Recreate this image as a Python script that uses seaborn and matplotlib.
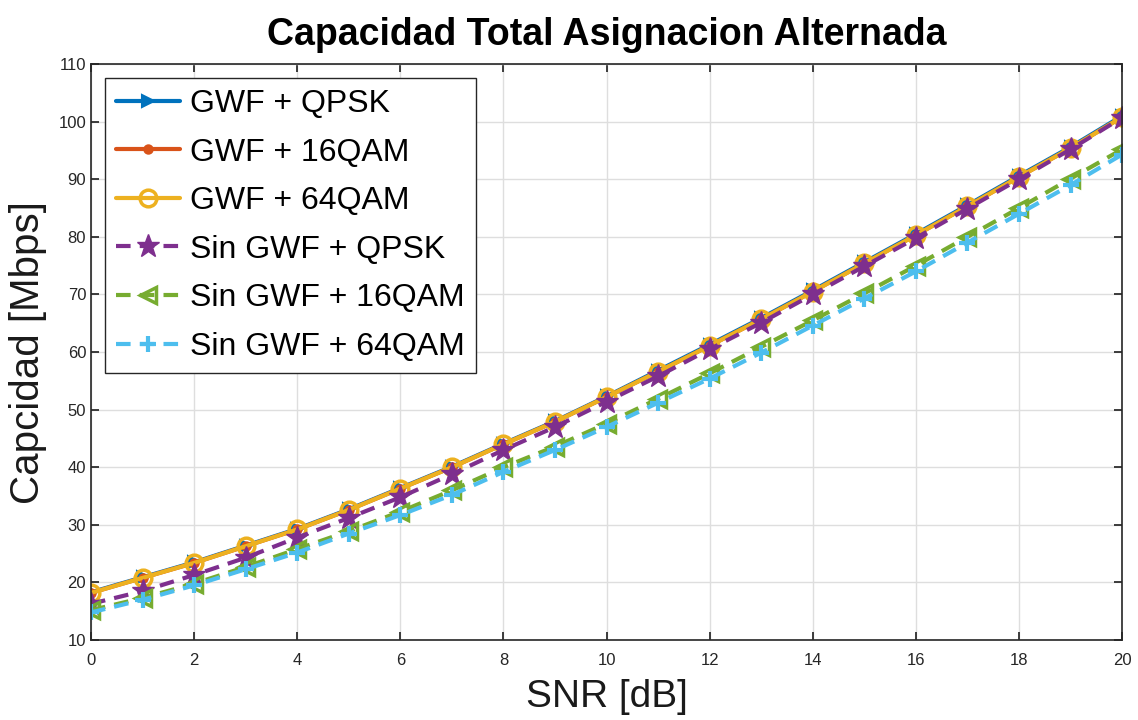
import numpy as np
import pandas as pd
import matplotlib
matplotlib.use("Agg")
import matplotlib.pyplot as plt
import seaborn as sns

snr = list(range(0, 21))
gwf_qpsk = [18.3, 20.9, 23.5, 26.4, 29.3, 32.7, 36.4, 40.1, 44.1, 48.0, 52.3, 56.8, 61.3, 65.9, 70.7, 75.6, 80.5, 85.5, 90.6, 95.6, 101.0]
gwf_16qam = [18.2, 20.8, 23.4, 26.3, 29.2, 32.6, 36.3, 40.0, 44.0, 47.9, 52.2, 56.6, 61.1, 65.7, 70.5, 75.4, 80.3, 85.3, 90.4, 95.4, 100.8]
gwf_64qam = [18.2, 20.8, 23.4, 26.3, 29.2, 32.6, 36.3, 40.0, 44.0, 47.9, 52.2, 56.6, 61.1, 65.7, 70.5, 75.4, 80.3, 85.3, 90.4, 95.4, 100.8]
sin_qpsk = [16.3, 18.5, 21.3, 24.3, 27.8, 31.2, 34.8, 38.8, 43.0, 47.0, 51.4, 55.8, 60.5, 65.1, 70.0, 74.9, 79.8, 84.9, 90.0, 95.2, 100.7]
sin_16qam = [15.2, 17.3, 19.8, 22.7, 25.8, 28.9, 32.3, 36.0, 40.0, 43.6, 47.6, 51.9, 56.3, 60.9, 65.5, 70.2, 75.0, 80.0, 85.0, 90.1, 95.2]
sin_64qam = [14.8, 17.0, 19.5, 22.3, 25.2, 28.5, 31.7, 35.2, 39.2, 43.0, 47.0, 51.2, 55.4, 59.9, 64.6, 69.3, 74.0, 79.0, 84.0, 89.0, 94.3]
labels = ["GWF + QPSK", "GWF + 16QAM", "GWF + 64QAM",
          "Sin GWF + QPSK", "Sin GWF + 16QAM", "Sin GWF + 64QAM"]
series = [gwf_qpsk, gwf_16qam, gwf_64qam, sin_qpsk, sin_16qam, sin_64qam]

sns.set_theme(style="whitegrid")
plt.rcParams['font.family'] = ['Liberation Sans', 'DejaVu Sans']

colors = ["#0072BD", "#D95319", "#EDB120", "#7E2F8E", "#77AC30", "#4DBEEE"]
dash = (0, (3.5, 2.2))
styles = [
    dict(marker=">", markersize=9, linestyle="-", fill=True, mew=1.5),
    dict(marker=".", markersize=12, linestyle="-", fill=True, mew=1.5),
    dict(marker="o", markersize=12, linestyle="-", fill=False, mew=2.5),
    dict(marker="*", markersize=17, linestyle=dash, fill=True, mew=1.0),
    dict(marker="<", markersize=11, linestyle=dash, fill=False, mew=2.5),
    dict(marker="+", markersize=12, linestyle=dash, fill=True, mew=3.0),
]

fig = plt.figure(figsize=(11.38, 7.2), dpi=100)
ax = fig.add_axes([0.080, 0.111, 0.906, 0.800])

for lab, vals, st, c in zip(labels, series, styles, colors):
    df = pd.DataFrame({"SNR": snr, "Cap": vals})
    sns.lineplot(data=df, x="SNR", y="Cap", ax=ax, label=lab, linewidth=3,
                 color=c, marker=st["marker"], markersize=st["markersize"],
                 linestyle=st["linestyle"], markeredgecolor=c,
                 markerfacecolor=(c if st["fill"] else "none"),
                 markeredgewidth=st["mew"])

ax.set_xlim(0, 20)
ax.set_ylim(10, 110)
ax.set_xticks(range(0, 21, 2))
ax.set_yticks(range(10, 111, 10))
ax.tick_params(axis="both", direction="in", length=6, labelsize=12, colors="#262626",
               top=True, right=True, bottom=True, left=True)
ax.tick_params(axis="x", pad=9)
ax.grid(True, color="#dedede", linewidth=1)
for s in ax.spines.values():
    s.set_color("#262626")
    s.set_linewidth(1.2)
ax.set_facecolor("white")

ax.set_title("Capacidad Total Asignacion Alternada", fontsize=27, fontweight="bold",
             pad=14, color="black")
ax.set_xlabel("SNR [dB]", fontsize=28, color="#1a1a1a", labelpad=8)
ax.set_ylabel("Capcidad [Mbps]", fontsize=29, color="#1a1a1a", labelpad=8)

leg = ax.legend(loc="upper left", bbox_to_anchor=(0.0136, 0.976), borderaxespad=0,
                fontsize=23, frameon=True, fancybox=False, edgecolor="#262626",
                framealpha=1, handlelength=2.0, handletextpad=0.3, borderpad=0.35,
                labelspacing=0.58)
leg.get_frame().set_linewidth(1.0)
for t in leg.get_texts():
    t.set_color("black")

fig.savefig("out.png", dpi=100)
